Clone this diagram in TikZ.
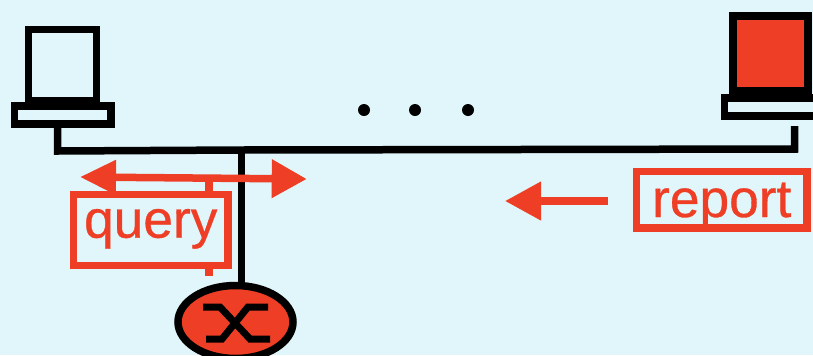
\documentclass[tikz,border=0pt]{standalone}
\usepackage{fontspec}
\setmainfont{Liberation Sans}
\newfontfamily\signfont[FakeBold=0.6]{Liberation Sans}
\usetikzlibrary{arrows.meta,shapes.geometric}
\definecolor{skybg}{HTML}{E0F6FA}
\definecolor{signal}{HTML}{EE3F26}
\def\px{0.03cm}
\tikzset{
    wire/.style={line width=7.5*\px, line join=miter},
    sigline/.style={line width=7.5*\px, color=signal},
    labelbox/.style={draw=signal, line width=7.5*\px, fill=skybg, text=signal, inner sep=0pt,
        font=\signfont\fontsize{45.5}{54}\selectfont},
    hostpart/.style={draw=black, line width=7.5*\px, rectangle, inner sep=0pt},
    bigtip/.style={-{Triangle[length=36*\px, width=37*\px]}}
}
\begin{document}
\begin{tikzpicture}[x=\px, y=-\px]
    \useasboundingbox (0,0) rectangle (813,355);
    \clip (0,0) rectangle (813,355);
    \fill[skybg] (0,0) rectangle (813,355);

    % Ethernet segment, a bit crooked like the original
    \coordinate (tapL) at (57.5,125);
    \coordinate (cornerL) at (57.5,151);
    \coordinate (joint) at (241.3,150);
    \coordinate (cornerR) at (794.5,149);
    \coordinate (tapR) at (794.5,126);
    \draw[wire] (tapL) -- (cornerL) -- (joint) -- (cornerR) -- (tapR);

    % Left host
    \node[hostpart, minimum width=68*\px, minimum height=71*\px] (monL) at (62.5,65) {};
    \node[hostpart, minimum width=96.5*\px, minimum height=18*\px] (baseL) at (62.75,115) {};

    % Right host, runs off the edge
    \node[hostpart, line width=8*\px, fill=signal, minimum width=75*\px, minimum height=75*\px] (monR) at (770,53) {};
    \node[hostpart, minimum width=100*\px, minimum height=18*\px] (baseR) at (774.5,107) {};

    % Router
    \draw[wire] (joint) -- (joint |- 0,300);
    \node[ellipse, draw=black, fill=signal, line width=7.5*\px, inner sep=0pt,
        minimum width=115*\px, minimum height=73*\px] (router) at (235.5,322) {};
    \draw[line width=7*\px] (203,307) -- (220,307) -- (250,339) -- (270,339);
    \draw[line width=7*\px] (206,339) -- (222,339) -- (248,307) -- (268,307);

    % Dots
    \foreach \n/\x in {1/364, 2/415, 3/468}
        \node[circle, fill=black, inner sep=0pt, minimum size=12*\px] (dot\n) at (\x,110) {};

    % Query flooding both ways
    \coordinate (queryL) at (80,177);
    \coordinate (queryR) at (306.7,179);
    \coordinate (stubTop) at (209,178);
    \coordinate (stubEnd) at (209,276);
    \draw[sigline] (stubTop) -- (stubEnd);
    \draw[sigline, {Triangle[length=36*\px, width=33*\px]}-{Triangle[length=35*\px, width=37*\px]}] (queryL) -- (queryR);
    \node[labelbox, minimum width=154.5*\px, minimum height=71*\px, text height=1.23cm, text depth=0.77cm] (query) at (150.75,230) {query};

    % Report going left
    \node[labelbox, minimum width=170.5*\px, minimum height=56.5*\px, text height=1.23cm, text depth=0.195cm] (report) at (721.75,199.75) {report};
    \coordinate (reportStart) at (607.7,201);
    \coordinate (reportTip) at (505,201);
    \draw[sigline, bigtip] (reportStart) -- (reportTip);
\end{tikzpicture}
\end{document}
